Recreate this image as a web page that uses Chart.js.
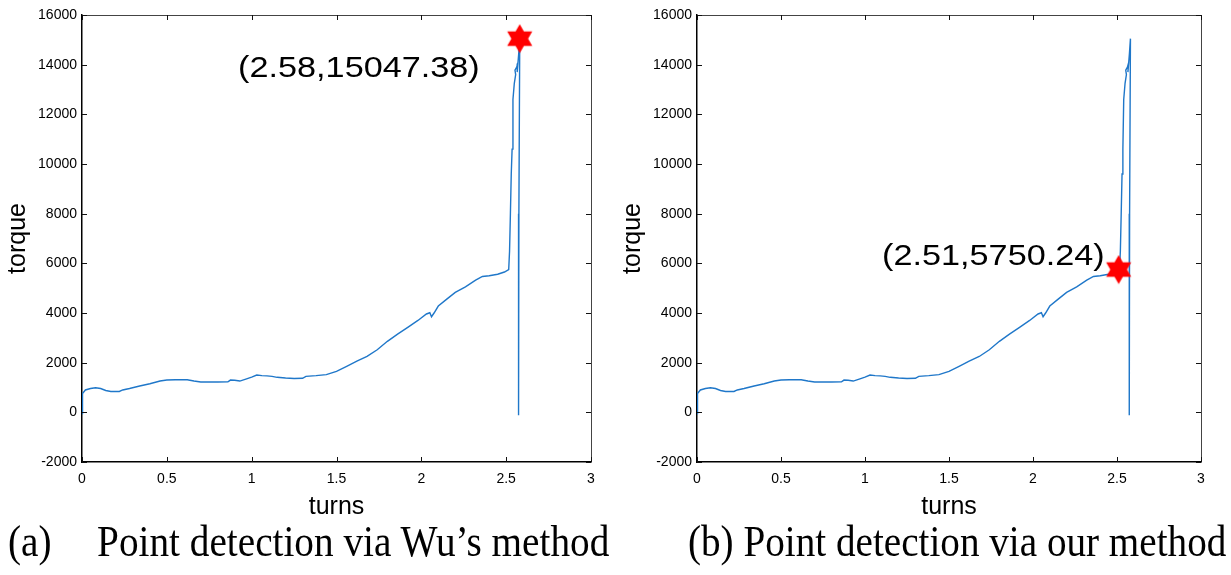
<!DOCTYPE html>
<html>
<head>
<meta charset="utf-8">
<script src="https://cdn.jsdelivr.net/npm/chart.js"></script>
<style>
  body { margin: 0; background: #fff; width: 1231px; height: 575px; position: relative; overflow: hidden; }
  .panel { position: absolute; top: 0; height: 520px; }
  #panelA { left: 0; width: 615px; }
  #panelB { left: 615px; width: 616px; }
  .caption { position: absolute; top: 520px; font-family: "Liberation Serif", "Times New Roman", serif; font-size: 44px; line-height: 44px; white-space: pre; color: #000; transform: scaleX(0.89); transform-origin: left top; }
</style>
</head>
<body>
<div class="panel" id="panelA"><canvas id="graficoA"></canvas></div>
<div class="panel" id="panelB"><canvas id="graficoB"></canvas></div>
<div class="caption" style="left:8px; transform: scaleX(0.892)">(a)<span style="margin-left:51px">Point detection via Wu’s method</span></div>
<div class="caption" style="left:688px">(b) Point detection via our method</div>
<script>
// datos (vueltas vs torque)
const turns = [0, 0.003, 0.02, 0.05, 0.08, 0.11, 0.14, 0.17, 0.22, 0.24, 0.28, 0.34, 0.4, 0.46, 0.5,
  0.55, 0.62, 0.66, 0.7, 0.8, 0.86, 0.875, 0.9, 0.93, 0.97, 1.0, 1.03, 1.06, 1.09, 1.12,
  1.15, 1.2, 1.25, 1.3, 1.32, 1.38, 1.44, 1.5, 1.56, 1.62, 1.68, 1.74, 1.8, 1.86, 1.92,
  1.98, 2.03, 2.05, 2.06, 2.075, 2.1, 2.15, 2.2, 2.26, 2.32, 2.36, 2.4, 2.45, 2.49, 2.515,
  2.52, 2.525, 2.53, 2.535, 2.54, 2.548, 2.556, 2.552, 2.562, 2.568, 2.565, 2.574, 2.58, 2.575, 2.573];
const torque = [-50, 760, 900, 960, 990, 960, 880, 840, 840, 900, 960, 1060, 1150, 1260, 1300,
  1310, 1310, 1260, 1220, 1220, 1230, 1300, 1290, 1260, 1350, 1420, 1500, 1480, 1470, 1450,
  1410, 1380, 1360, 1370, 1450, 1480, 1520, 1650, 1850, 2060, 2250, 2520, 2860, 3150, 3420,
  3700, 3960, 4010, 3850, 4000, 4280, 4560, 4830, 5050, 5320, 5470, 5500, 5560, 5650, 5750,
  6500, 8000, 9600, 10600, 12600, 13250, 13600, 13780, 13900, 14050, 13700, 14450, 15047, 8000, -120];

// puntos detectados: (a) metodo de Wu, (b) nuestro metodo
const puntoX = [2.58, 2.51];
const puntoY = [15047.38, 5750.24];

const xTicks = [0, 0.5, 1, 1.5, 2, 2.5, 3];
const yTicks = [-2000, 0, 2000, 4000, 6000, 8000, 10000, 12000, 14000, 16000];

Chart.defaults.font.family = '"Liberation Sans", Arial, sans-serif';
Chart.defaults.color = '#000';

// estrella de seis puntas roja
const crearEstrella = () => {
  const c = document.createElement('canvas');
  c.width = 30; c.height = 30;
  const g = c.getContext('2d');
  const R = 14.5, r = R / Math.sqrt(3);
  g.beginPath();
  for (let k = 0; k < 12; k++) {
    const ang = -Math.PI / 2 + k * Math.PI / 6;
    const rad = k % 2 === 0 ? R : r;
    const px = 15 + rad * Math.cos(ang), py = 15 + rad * Math.sin(ang);
    if (k === 0) g.moveTo(px, py); else g.lineTo(px, py);
  }
  g.closePath();
  g.fillStyle = '#ff0000';
  g.fill();
  return c;
};
const estrella = crearEstrella();

// marco estilo matlab con ticks hacia adentro
const marcoMatlab = {
  id: 'marcoMatlab',
  afterDraw(chart) {
    const { ctx, chartArea: a, scales } = chart;
    const largo = 5;
    ctx.save();
    ctx.strokeStyle = '#444';
    ctx.lineWidth = 1;
    ctx.beginPath();
    ctx.moveTo(a.left, a.top + 0.5); ctx.lineTo(a.right + 0.5, a.top + 0.5);
    ctx.lineTo(a.right + 0.5, a.bottom);
    ctx.stroke();
    ctx.strokeStyle = '#111';
    ctx.beginPath();
    xTicks.forEach((v) => {
      const px = Math.round(scales.x.getPixelForValue(v)) + 0.5;
      ctx.moveTo(px, a.bottom); ctx.lineTo(px, a.bottom - largo);
      ctx.moveTo(px, a.top); ctx.lineTo(px, a.top + largo);
    });
    yTicks.forEach((v) => {
      const py = Math.round(scales.y.getPixelForValue(v)) + 0.5;
      ctx.moveTo(a.left, py); ctx.lineTo(a.left + largo, py);
      ctx.moveTo(a.right, py); ctx.lineTo(a.right - largo, py);
    });
    ctx.stroke();
    ctx.restore();
  }
};

// texto con las coordenadas del punto detectado
const etiquetaPunto = {
  id: 'etiquetaPunto',
  afterDatasetsDraw(chart, args, opts) {
    const { ctx, scales } = chart;
    const px = scales.x.getPixelForValue(opts.x);
    const py = scales.y.getPixelForValue(opts.y);
    ctx.save();
    ctx.font = '29px "Liberation Sans", Arial, sans-serif';
    ctx.fillStyle = '#000';
    ctx.textAlign = 'right';
    ctx.textBaseline = 'alphabetic';
    ctx.translate(px + opts.dx, py + opts.dy);
    ctx.scale(1.18, 1);
    ctx.fillText(`(${opts.x},${opts.y})`, 0, 0);
    ctx.restore();
  }
};

const crearGrafico = (id, i, padDerecha, dx, dy) => {
  new Chart(document.getElementById(id), {
    type: 'line',
    data: {
      datasets: [
        {
          data: [{ x: puntoX[i], y: puntoY[i] }],
          showLine: false,
          pointStyle: estrella,
          pointRadius: 14,
          clip: false,
        },
        {
          data: turns.map((t, k) => ({ x: t, y: torque[k] })),
          borderColor: '#1f77c9',
          borderWidth: 1.4,
          pointRadius: 0,
          tension: 0,
          fill: false,
        },
      ],
    },
    options: {
      responsive: true,
      maintainAspectRatio: false,
      animation: false,
      layout: { padding: { top: 11, right: padDerecha, left: 0, bottom: 0 } },
      plugins: {
        legend: { display: false },
        tooltip: { enabled: false },
        etiquetaPunto: { x: puntoX[i], y: puntoY[i], dx: dx, dy: dy },
      },
      scales: {
        x: {
          type: 'linear',
          min: 0,
          max: 3,
          afterBuildTicks: (s) => { s.ticks = xTicks.map((v) => ({ value: v })); },
          afterFit: (s) => { s.height = 58; },
          ticks: { font: { size: 14 }, padding: 9, maxRotation: 0, callback: (v) => String(v) },
          grid: { display: false, drawTicks: false },
          border: { display: true, color: '#000', width: 1.5 },
          title: { display: true, text: 'turns', font: { size: 25, lineHeight: 1 }, padding: { top: 0, bottom: 0 } },
        },
        y: {
          type: 'linear',
          min: -2000,
          max: 16000,
          afterBuildTicks: (s) => { s.ticks = yTicks.map((v) => ({ value: v })); },
          afterFit: (s) => { s.width = 82; },
          ticks: { font: { size: 14 }, padding: 5, callback: (v) => String(v) },
          grid: { display: false, drawTicks: false },
          border: { display: true, color: '#000', width: 1.5 },
          title: { display: true, text: 'torque', font: { size: 25, lineHeight: 1 }, padding: { top: 6, bottom: 0 } },
        },
      },
    },
    plugins: [marcoMatlab, etiquetaPunto],
  });
};

crearGrafico('graficoA', 0, 24, -40, 38);
crearGrafico('graficoB', 1, 30, -14, -5);
</script>
</body>
</html>
